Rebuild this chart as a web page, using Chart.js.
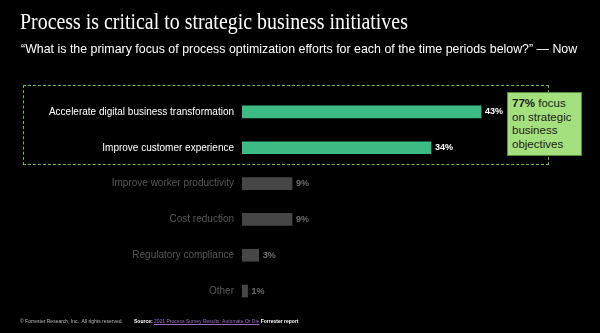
<!DOCTYPE html>
<html>
<head>
<meta charset="utf-8">
<script src="https://cdn.jsdelivr.net/npm/chart.js@4.4.0/dist/chart.umd.min.js"></script>
<style>
  html, body { margin: 0; padding: 0; background: #000; }
  #wrap { position: relative; width: 600px; height: 333px; overflow: hidden; background: #000; }
  #chart { position: absolute; left: 0; top: 0; }
  .title { position: absolute; left: 20px; top: 9px; font-family: "Liberation Serif", serif; font-size: 23px; color: #fff; white-space: nowrap;
    transform: scaleX(0.865); transform-origin: left top; }
  .sub { position: absolute; left: 21px; top: 42px; font-family: "Liberation Sans", Arial, sans-serif; font-size: 12.4px; color: #fff; white-space: nowrap; }
  .dash { position: absolute; left: 23px; top: 85px; width: 526px; height: 80px; border: 1.5px dashed #76b947; box-sizing: border-box; }
  .callout { position: absolute; left: 507px; top: 92px; width: 75px; height: 64px; background: #a5e07f; border: 1px solid #4f8f3c; box-sizing: border-box;
    font-family: "Liberation Sans", Arial, sans-serif; font-size: 11.5px; line-height: 13.5px; color: #1b1b1b; padding: 4px 0 0 4px; }
  .foot { position: absolute; top: 318px; font-family: "Liberation Sans", Arial, sans-serif; font-size: 5px; white-space: nowrap; }
</style>
</head>
<body>
<div id="wrap">
  <canvas id="chart" width="600" height="333"></canvas>
  <div class="title">Process is critical to strategic business initiatives</div>
  <div class="sub">“What is the primary focus of process optimization efforts for each of the time periods below?” — Now</div>
  <div class="dash"></div>
  <div class="callout"><b>77%</b> focus<br>on strategic<br>business<br>objectives</div>
  <div class="foot" style="left:20px;color:#bbb;">© Forrester Research, Inc.&nbsp; All rights reserved.</div>
  <div class="foot" style="left:134px;color:#fff;"><b>Source:</b> <span style="color:#9b6fc2;text-decoration:underline;">2021 Process Survey Results: Automate Or Die</span> <b>Forrester report</b></div>
</div>
<script>
const categories = [
    "Accelerate digital business transformation",
    "Improve customer experience",
    "Improve worker productivity",
    "Cost reduction",
    "Regulatory compliance",
    "Other"
];
const values = [43, 34, 9, 9, 3, 1];
const highlighted = [true, true, false, false, false, false];

const barColors = highlighted.map(h => h ? "#3dbb85" : "#464646");
const labelColors = highlighted.map(h => h ? "#ffffff" : "#575757");
const valueColors = highlighted.map(h => h ? "#ffffff" : "#6e6e6e");

const valueLabels = {
    id: "valueLabels",
    afterDatasetsDraw(chart) {
        const ctx = chart.ctx;
        const meta = chart.getDatasetMeta(0);
        ctx.save();
        ctx.font = "bold 9px 'Liberation Sans', Arial, sans-serif";
        ctx.textBaseline = "middle";
        ctx.textAlign = "left";
        meta.data.forEach((bar, i) => {
            ctx.fillStyle = valueColors[i];
            ctx.fillText(values[i] + "%", bar.x + 4, bar.y);
        });
        ctx.restore();
    }
};

let ctx = document.getElementById("chart").getContext("2d");
let myChart = new Chart(ctx, {
    type: "bar",
    data: {
        labels: categories,
        datasets: [{
            data: values,
            backgroundColor: barColors,
            barThickness: 12,
            borderWidth: 0
        }]
    },
    options: {
        indexAxis: "y",
        responsive: false,
        animation: false,
        layout: { padding: { top: 94, bottom: 24, right: 80, left: 0 } },
        plugins: { legend: { display: false }, tooltip: { enabled: false } },
        scales: {
            x: { display: false, min: 0, max: 50 },
            y: {
                afterFit: s => { s.width = 242; },
                grid: { display: false, drawTicks: false },
                border: { display: false },
                ticks: {
                    padding: 8,
                    color: labelColors,
                    font: { family: "'Liberation Sans', Arial, sans-serif", size: 10 }
                }
            }
        }
    },
    plugins: [valueLabels]
});
</script>
</body>
</html>
